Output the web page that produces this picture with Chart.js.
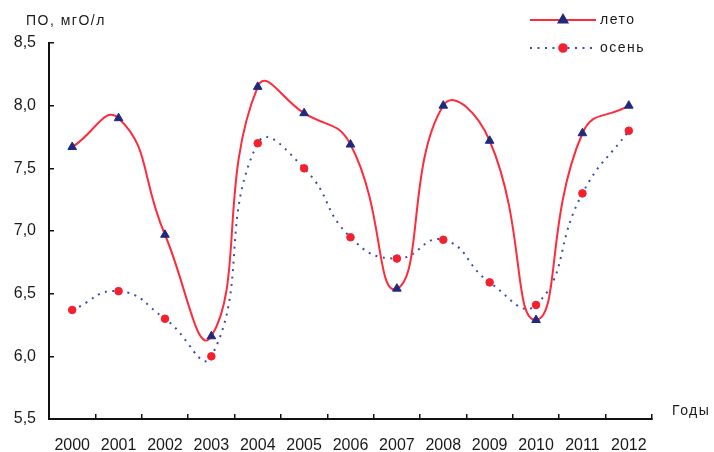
<!DOCTYPE html>
<html><head><meta charset="utf-8">
<script src="https://cdn.jsdelivr.net/npm/chart.js@4/dist/chart.umd.min.js"></script>
<style>html,body{margin:0;padding:0;background:#fff;}#wrap{width:714px;height:452px;position:relative;}</style>
</head><body><div id="wrap"><canvas id="c" width="714" height="452"></canvas></div>
<script>
const years = ['2000','2001','2002','2003','2004','2005','2006','2007','2008','2009','2010','2011','2012'];
const summer = [7.67, 7.90, 6.97, 6.16, 8.15, 7.94, 7.69, 6.54, 8.00, 7.72, 6.29, 7.78, 8.00];
const autumn = [6.37, 6.52, 6.30, 6.00, 7.70, 7.50, 6.95, 6.78, 6.93, 6.59, 6.41, 7.30, 7.80];
const seriesNames = ['лето', 'осень'];
const yMin = 5.5, yMax = 8.5, yStep = 0.5;
const yAxisTitle = 'ПО, мгО/л';
const xAxisTitle = 'Годы';

const FONT = '"Liberation Sans", Arial, sans-serif';
const TXT = '#1a1a1a';

const textPlugin = {
  id: 'texts',
  afterDraw(chart) {
    const ctx = chart.ctx;
    ctx.save();
    ctx.fillStyle = TXT;
    ctx.font = '14px ' + FONT;
    ctx.textBaseline = 'middle';
    try { ctx.letterSpacing = '1.5px'; } catch (e) {}
    ctx.textAlign = 'left';
    ctx.fillText(yAxisTitle, 26, 21);
    ctx.fillText(xAxisTitle, 672, 411);
    // legend
    const rows = [20, 48];
    chart.data.datasets.forEach((ds, i) => {
      const y = rows[i];
      ctx.save();
      try { ctx.letterSpacing = '0px'; } catch (e) {}
      ctx.strokeStyle = ds.borderColor;
      ctx.lineWidth = ds.borderWidth;
      ctx.setLineDash(ds.borderDash || []);
      ctx.lineCap = ds.borderCapStyle || 'butt';
      ctx.beginPath();
      ctx.moveTo(530, y);
      ctx.lineTo(596, y);
      ctx.stroke();
      ctx.setLineDash([]);
      ctx.fillStyle = ds.pointBackgroundColor;
      ctx.strokeStyle = ds.pointBorderColor;
      Chart.helpers.drawPoint(ctx, {pointStyle: ds.pointStyle, radius: ds.pointRadius, rotation: 0, borderWidth: ds.pointBorderWidth}, 563, y);
      ctx.restore();
      ctx.fillStyle = TXT;
      ctx.fillText(ds.label, 600, y);
    });
    ctx.restore();
  }
};

new Chart(document.getElementById('c'), {
  type: 'line',
  data: {
    labels: years,
    datasets: [
      {
        label: seriesNames[0],
        data: summer,
        borderColor: '#ff2b3c',
        borderWidth: 2,
        tension: 0.5,
        pointStyle: 'triangle',
        pointRadius: 5,
        pointBackgroundColor: '#1f2a7e',
        pointBorderColor: '#1f2a7e',
        pointBorderWidth: 1,
        order: 0
      },
      {
        label: seriesNames[1],
        data: autumn,
        borderColor: '#3a4db0',
        borderWidth: 2,
        borderDash: [2, 5.5],
        tension: 0.5,
        pointStyle: 'circle',
        pointRadius: 3.8,
        pointBackgroundColor: '#f5202f',
        pointBorderColor: '#f5202f',
        pointBorderWidth: 1,
        order: 1
      }
    ]
  },
  options: {
    responsive: false,
    animation: false,
    devicePixelRatio: 1,
    layout: { padding: { left: 0, top: 43, right: 62, bottom: 0 } },
    plugins: { legend: { display: false }, tooltip: { enabled: false } },
    scales: {
      x: {
        offset: true,
        grid: { offset: true, drawOnChartArea: false, drawTicks: true, tickLength: -5, color: '#111', lineWidth: 1.5 },
        border: { color: '#111', width: 2 },
        ticks: { color: TXT, font: { family: FONT, size: 16 }, padding: 22, maxRotation: 0, autoSkip: false },
        afterFit(s) { s.height = 33; }
      },
      y: {
        min: yMin, max: yMax,
        grid: { drawOnChartArea: false, drawTicks: true, tickLength: -5, color: '#111', lineWidth: 1.5 },
        border: { color: '#111', width: 2 },
        ticks: { stepSize: yStep, color: TXT, font: { family: FONT, size: 16 }, padding: 18,
          callback: v => v.toFixed(1).replace('.', ',') },
        afterFit(s) { s.width = 49; }
      }
    }
  },
  plugins: [textPlugin]
});
</script>
</body></html>
